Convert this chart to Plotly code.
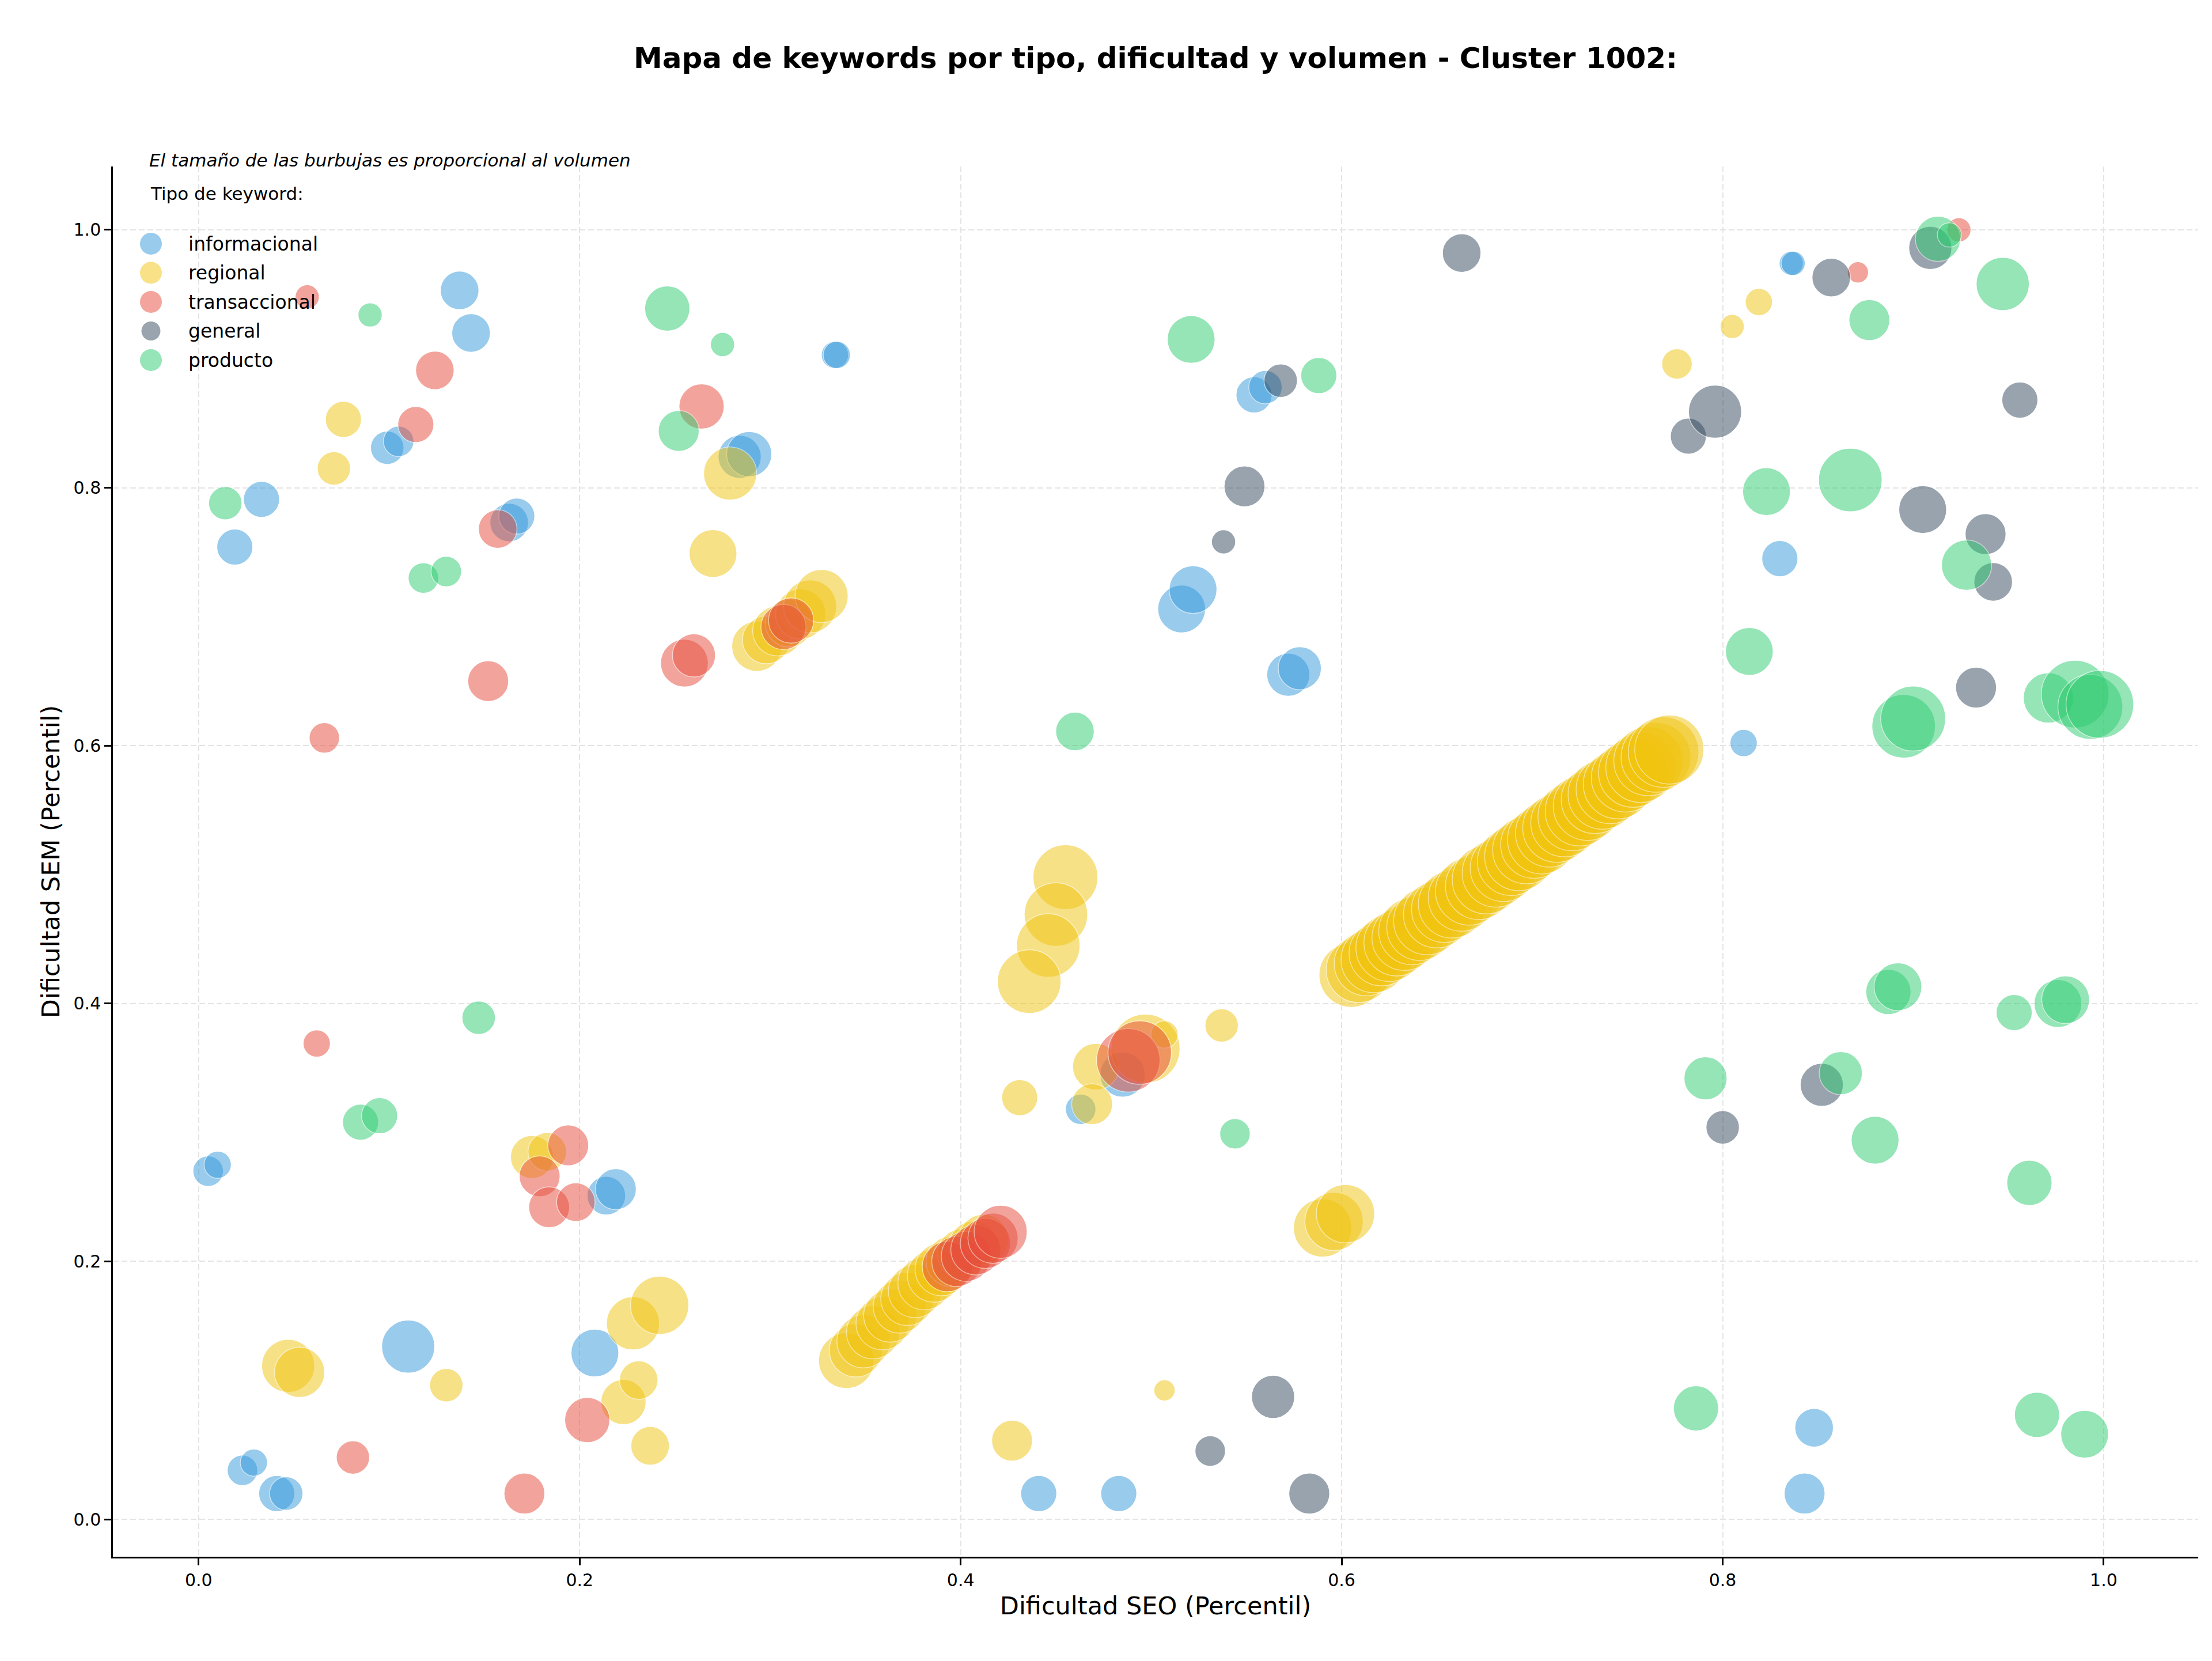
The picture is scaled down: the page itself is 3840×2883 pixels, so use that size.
import numpy as np
import plotly.graph_objects as go

# ---------------- data ----------------
categorias = ["informacional", "regional", "transaccional", "general", "producto"]
colores = ["#3498db", "#f1c40f", "#e74c3c", "#34495e", "#2ecc71"]

info_seo = [0.005, 0.010, 0.019, 0.033, 0.023, 0.029, 0.041, 0.046, 0.099, 0.105,
            0.110, 0.137, 0.143, 0.163, 0.167, 0.208, 0.214, 0.219, 0.284, 0.289,
            0.334, 0.335, 0.441, 0.483, 0.463, 0.485, 0.516, 0.522, 0.554, 0.560,
            0.572, 0.578, 0.811, 0.830, 0.836, 0.837, 0.848, 0.843]
info_sem = [0.270, 0.275, 0.754, 0.791, 0.038, 0.044, 0.020, 0.020, 0.831, 0.836,
            0.134, 0.953, 0.920, 0.773, 0.778, 0.129, 0.251, 0.256, 0.824, 0.826,
            0.903, 0.903, 0.020, 0.020, 0.318, 0.345, 0.706, 0.721, 0.872, 0.878,
            0.655, 0.660, 0.602, 0.745, 0.974, 0.974, 0.071, 0.020]
info_vol = [175, 140, 245, 245, 175, 140, 245, 210, 210, 175,
            530, 280, 280, 280, 245, 430, 280, 315, 350, 385,
            140, 140, 245, 245, 175, 385, 430, 430, 245, 210,
            350, 350, 140, 245, 110, 110, 280, 315]

reg_seo = [0.071, 0.076, 0.047, 0.053, 0.130, 0.175, 0.183, 0.223, 0.231, 0.228,
           0.242, 0.237, 0.270, 0.279,
           0.293, 0.298, 0.304, 0.310, 0.316, 0.321, 0.327,
           0.340, 0.345, 0.349, 0.354, 0.359, 0.363, 0.368, 0.372, 0.376, 0.381,
           0.386, 0.390, 0.395, 0.401, 0.407, 0.412,
           0.455, 0.450, 0.446, 0.436, 0.431, 0.471, 0.497, 0.469, 0.507, 0.537,
           0.507, 0.427, 0.590, 0.596, 0.602, 0.776, 0.805, 0.819,
           0.605, 0.609, 0.613, 0.617, 0.621, 0.625, 0.629, 0.633, 0.637, 0.641,
           0.645, 0.650, 0.654, 0.658, 0.663, 0.667, 0.672, 0.676, 0.681, 0.685,
           0.689, 0.693, 0.697, 0.701, 0.705, 0.709, 0.713, 0.717, 0.721, 0.725,
           0.729, 0.733, 0.737, 0.741, 0.745, 0.749, 0.753, 0.757, 0.761, 0.765,
           0.769, 0.772]
reg_sem = [0.815, 0.853, 0.119, 0.114, 0.104, 0.281, 0.285, 0.091, 0.108, 0.152,
           0.166, 0.057, 0.749, 0.811,
           0.677, 0.682, 0.689, 0.695, 0.702, 0.708, 0.716,
           0.123, 0.131, 0.138, 0.145, 0.152, 0.158, 0.165, 0.171, 0.177, 0.183,
           0.189, 0.194, 0.200, 0.206, 0.212, 0.217,
           0.498, 0.469, 0.445, 0.417, 0.327, 0.351, 0.365, 0.322, 0.376, 0.383,
           0.100, 0.061, 0.226, 0.231, 0.237, 0.896, 0.925, 0.944,
           0.422, 0.426, 0.431, 0.434, 0.439, 0.443, 0.447, 0.451, 0.456, 0.459,
           0.464, 0.469, 0.473, 0.477, 0.482, 0.487, 0.491, 0.496, 0.501, 0.505,
           0.510, 0.514, 0.519, 0.523, 0.527, 0.532, 0.536, 0.540, 0.545, 0.549,
           0.553, 0.558, 0.562, 0.566, 0.570, 0.575, 0.579, 0.583, 0.588, 0.591,
           0.595, 0.597]
reg_vol = [210, 245, 530, 475, 210, 350, 280, 385, 280, 530,
           640, 280, 430, 530,
           475, 430, 475, 430, 475, 530, 530,
           580, 530, 530, 530, 530, 530, 530, 530, 530, 530,
           530, 530, 475, 475, 475, 475,
           793, 760, 760, 760, 245, 410, 900, 315, 140, 210,
           85, 315, 640, 640, 640, 175, 110, 140,
           780, 800, 780, 820, 800, 840, 820, 800, 840, 820,
           860, 840, 820, 860, 840, 860, 840, 880, 860, 840,
           860, 880, 860, 840, 880, 860, 880, 860, 880, 900,
           880, 860, 900, 880, 900, 880, 900, 920, 900, 920,
           937, 900]

tra_seo = [0.057, 0.066, 0.062, 0.081, 0.114, 0.124, 0.152, 0.157, 0.171, 0.179,
           0.184, 0.194, 0.198, 0.204, 0.255, 0.260, 0.264, 0.307, 0.311,
           0.393, 0.398, 0.403, 0.408, 0.413, 0.417, 0.421,
           0.488, 0.494, 0.871, 0.924]
tra_sem = [0.948, 0.606, 0.369, 0.048, 0.849, 0.891, 0.650, 0.768, 0.020, 0.266,
           0.242, 0.290, 0.246, 0.077, 0.664, 0.670, 0.863, 0.692, 0.697,
           0.196, 0.200, 0.204, 0.209, 0.214, 0.218, 0.223,
           0.356, 0.362, 0.967, 1.000]
tra_vol = [110, 175, 140, 210, 245, 280, 315, 280, 315, 315,
           315, 315, 280, 385, 430, 350, 385, 385, 385,
           475, 475, 475, 475, 475, 475, 530,
           760, 760, 85, 110]

gen_seo = [0.531, 0.538, 0.549, 0.564, 0.568, 0.583, 0.663, 0.782, 0.796, 0.800,
           0.852, 0.857, 0.905, 0.909, 0.933, 0.938, 0.942, 0.956]
gen_sem = [0.053, 0.758, 0.801, 0.095, 0.883, 0.020, 0.982, 0.840, 0.859, 0.304,
           0.337, 0.963, 0.783, 0.986, 0.645, 0.764, 0.727, 0.868]
gen_vol = [175, 110, 315, 350, 210, 315, 280, 245, 530, 210,
           350, 280, 430, 350, 315, 315, 280, 245]

pro_seo = [0.014, 0.085, 0.095, 0.090, 0.118, 0.130, 0.147, 0.246, 0.252, 0.275,
           0.460, 0.521, 0.544, 0.588, 0.786, 0.791, 0.814, 0.823, 0.862, 0.867,
           0.877, 0.880, 0.887, 0.892, 0.895, 0.900, 0.913, 0.919, 0.928, 0.947,
           0.953, 0.961, 0.965, 0.971, 0.976, 0.980, 0.985, 0.993, 0.998, 0.990]
pro_sem = [0.788, 0.308, 0.313, 0.934, 0.730, 0.735, 0.389, 0.939, 0.844, 0.911,
           0.611, 0.915, 0.299, 0.887, 0.086, 0.342, 0.673, 0.797, 0.346, 0.806,
           0.930, 0.294, 0.409, 0.413, 0.615, 0.621, 0.993, 0.996, 0.740, 0.958,
           0.393, 0.261, 0.081, 0.637, 0.400, 0.403, 0.640, 0.630, 0.632, 0.066]
pro_vol = [210, 245, 245, 110, 175, 175, 210, 385, 315, 110,
           280, 430, 175, 245, 385, 350, 430, 430, 350, 760,
           315, 430, 385, 430, 760, 793, 385, 110, 475, 530,
           245, 385, 385, 475, 430, 430, 863, 793, 863, 430]

series = [
    (info_seo, info_sem, info_vol),
    (reg_seo, reg_sem, reg_vol),
    (tra_seo, tra_sem, tra_vol),
    (gen_seo, gen_sem, gen_vol),
    (pro_seo, pro_sem, pro_vol),
]

ticks = [0.0, 0.2, 0.4, 0.6, 0.8, 1.0]
tick_text = ["0.0", "0.2", "0.4", "0.6", "0.8", "1.0"]

# ---------------- layout constants ----------------
W, H = 3840, 2883
ML, MR, MT, MB = 196, 24, 289, 181
PW, PH = W - ML - MR, H - MT - MB
FONT = "DejaVu Sans"
SIZE_K = 4.0  # marker diameter = SIZE_K * sqrt(volume)

fig = go.Figure()
for cat, col, (sx, sy, sv) in zip(categorias, colores, series):
    fig.add_trace(go.Scatter(
        x=sx, y=sy, mode="markers", name=cat, showlegend=False,
        marker=dict(size=SIZE_K * np.sqrt(np.array(sv, dtype=float)), color=col,
                    opacity=0.5, line=dict(color="white", width=1.5)),
        hoverinfo="skip",
    ))

# custom legend (drawn on an auxiliary hidden axis in pixel-like units)
LEG_X0, LEG_Y0, LEG_DY = 262, 423, 50.5
x2_range = [ML - LEG_X0, ML + PW - LEG_X0]
y2_range = [(MT + PH - LEG_Y0) / LEG_DY, (MT - LEG_Y0) / LEG_DY]
leg_sizes = [38, 38, 38, 33, 38]
fig.add_trace(go.Scatter(
    x=[0] * len(categorias), y=list(range(len(categorias))), mode="markers",
    marker=dict(size=leg_sizes, color=colores, opacity=0.5, line=dict(width=0)),
    xaxis="x2", yaxis="y2", showlegend=False, hoverinfo="skip",
))

annotations = []
for i, cat in enumerate(categorias):
    annotations.append(dict(x=63, y=i, xref="x2", yref="y2", text=cat, showarrow=False,
                            xanchor="left", yanchor="middle",
                            font=dict(family=FONT, size=33, color="black")))


def px2paper(px, py):
    return (px - ML) / PW, (MT + PH - py) / PH


ax_, ay_ = px2paper(257, 278)
annotations.append(dict(x=ax_, y=ay_, xref="paper", yref="paper",
                        text="<i>El tamaño de las burbujas es proporcional al volumen</i>",
                        showarrow=False, xanchor="left", yanchor="middle",
                        font=dict(family=FONT, size=31, color="black")))
tx_, ty_ = px2paper(259, 336)
annotations.append(dict(x=tx_, y=ty_, xref="paper", yref="paper",
                        text="Tipo de keyword:", showarrow=False,
                        xanchor="left", yanchor="middle",
                        font=dict(family=FONT, size=31, color="black")))

axis_common = dict(
    showline=True, linecolor="black", linewidth=2.5, mirror=False,
    ticks="outside", ticklen=12, tickwidth=2.5, tickcolor="black",
    tickfont=dict(family=FONT, size=30, color="black"),
    showgrid=True, gridcolor="#e4e4e4", gridwidth=2, griddash="10px,5px",
    zeroline=False, tickvals=ticks, ticktext=tick_text,
)

fig.update_layout(
    width=W, height=H,
    margin=dict(l=ML, r=MR, t=MT, b=MB, pad=0),
    paper_bgcolor="white", plot_bgcolor="white",
    font=dict(family=FONT, color="black"),
    title=dict(text="<b>Mapa de keywords por tipo, dificultad y volumen - Cluster 1002:</b>",
               x=0.5, xref="paper", xanchor="center",
               y=1 - 100 / H, yref="container", yanchor="middle",
               font=dict(family=FONT, size=50, color="black")),
    xaxis=dict(range=[-0.045, 1.0496],
               title=dict(text="Dificultad SEO (Percentil)", standoff=14,
                          font=dict(family=FONT, size=43, color="black")),
               **axis_common),
    yaxis=dict(range=[-0.029, 1.0491],
               title=dict(text="Dificultad SEM (Percentil)", standoff=11,
                          font=dict(family=FONT, size=43, color="black")),
               **axis_common),
    xaxis2=dict(range=x2_range, overlaying="x", anchor="y2", visible=False,
                fixedrange=True),
    yaxis2=dict(range=y2_range, overlaying="y", anchor="x2", visible=False,
                fixedrange=True),
    annotations=annotations,
    showlegend=False,
)

fig.write_html("out.html")
